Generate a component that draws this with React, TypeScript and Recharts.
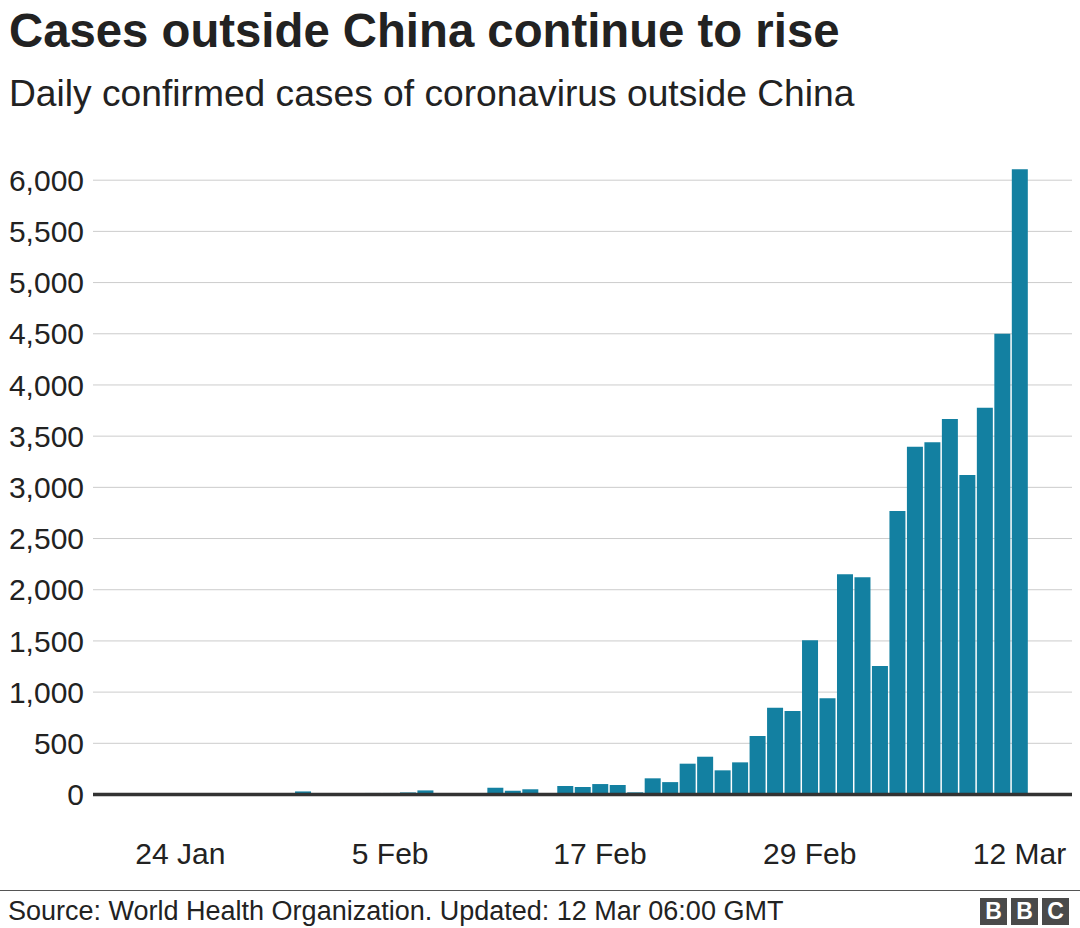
import {
  BarChart,
  Bar,
  XAxis,
  YAxis,
  CartesianGrid,
  ReferenceLine,
} from 'recharts'

// one entry per day, 20 Jan .. 12 Mar
const dates = [
  '20 Jan', '21 Jan', '22 Jan', '23 Jan', '24 Jan', '25 Jan', '26 Jan', '27 Jan',
  '28 Jan', '29 Jan', '30 Jan', '31 Jan', '1 Feb', '2 Feb', '3 Feb', '4 Feb',
  '5 Feb', '6 Feb', '7 Feb', '8 Feb', '9 Feb', '10 Feb', '11 Feb', '12 Feb',
  '13 Feb', '14 Feb', '15 Feb', '16 Feb', '17 Feb', '18 Feb', '19 Feb', '20 Feb',
  '21 Feb', '22 Feb', '23 Feb', '24 Feb', '25 Feb', '26 Feb', '27 Feb', '28 Feb',
  '29 Feb', '1 Mar', '2 Mar', '3 Mar', '4 Mar', '5 Mar', '6 Mar', '7 Mar',
  '8 Mar', '9 Mar', '10 Mar', '11 Mar', '12 Mar',
]

const cases = [
  0, 2, 1, 3, 4, 5, 6, 7,
  12, 6, 8, 30, 7, 6, 6, 15,
  15, 20, 40, 9, 9, 2, 66, 37,
  51, 3, 83, 73, 102, 93, 21, 158,
  121, 301, 369, 236, 314, 571, 848, 815,
  1506, 939, 2152, 2123, 1255, 2770, 3397, 3440,
  3667, 3120, 3777, 4500, 6108,
]

const xTicks = ['24 Jan', '5 Feb', '17 Feb', '29 Feb', '12 Mar']
const yTicks = [0, 500, 1000, 1500, 2000, 2500, 3000, 3500, 4000, 4500, 5000, 5500, 6000]

const FONT = 'Helvetica, Arial, "Liberation Sans", sans-serif'
const BAR_COLOR = '#1380a1'
const TEXT = '#222222'

const data = dates.map((d, i) => ({ x: i, label: d, value: cases[i] }))

function BbcLogo() {
  return (
    <div style={{ position: 'absolute', left: 980, top: 898, display: 'flex', gap: 4 }}>
      {['B', 'B', 'C'].map((ch, i) => (
        <div
          key={i}
          style={{
            width: 27,
            height: 27,
            background: '#4a4a4a',
            color: '#fff',
            fontFamily: FONT,
            fontWeight: 700,
            fontSize: 23,
            lineHeight: '27px',
            textAlign: 'center',
          }}
        >
          {ch}
        </div>
      ))}
    </div>
  )
}

export default function App() {
  return (
    <div
      style={{
        position: 'absolute',
        left: 0,
        top: 0,
        width: 1080,
        height: 928,
        background: '#fff',
        overflow: 'hidden',
        fontFamily: FONT,
        color: TEXT,
      }}
    >
      <div style={{ position: 'absolute', left: 9, top: 7, fontSize: 47.3, fontWeight: 700, lineHeight: 1, whiteSpace: 'nowrap' }}>
        Cases outside China continue to rise
      </div>
      <div style={{ position: 'absolute', left: 9, top: 75, fontSize: 37.2, lineHeight: 1, whiteSpace: 'nowrap' }}>
        Daily confirmed cases of coronavirus outside China
      </div>

      <div style={{ position: 'absolute', left: 0, top: 0 }}>
        <BarChart
          width={1080}
          height={880}
          data={data}
          margin={{ top: 129, right: 8, bottom: 25.5, left: 0 }}
        >
          <CartesianGrid vertical={false} stroke="#cccccc" strokeWidth={1} horizontalValues={yTicks} />
          <XAxis
            dataKey="x"
            type="number"
            domain={[-1, 55]}
            ticks={xTicks.map((t) => dates.indexOf(t))}
            tickFormatter={(v) => dates[v] ?? ''}
            axisLine={false}
            tickLine={false}
            tickSize={0}
            tickMargin={48}
            height={60}
            tick={{ fontSize: 30, fill: TEXT, fontFamily: FONT }}
            interval={0}
          />
          <YAxis
            domain={[0, 6500]}
            ticks={yTicks}
            tickFormatter={(v) => v.toLocaleString('en-GB')}
            axisLine={false}
            tickLine={false}
            tickSize={0}
            tickMargin={9}
            width={93}
            tick={{ fontSize: 30, fill: TEXT, fontFamily: FONT }}
            interval={0}
          />
          <Bar dataKey="value" fill={BAR_COLOR} barSize={16} isAnimationActive={false} />
          <ReferenceLine y={0} stroke="#333333" strokeWidth={3.5} />
        </BarChart>
      </div>

      <div style={{ position: 'absolute', left: 0, top: 890, width: 1080, height: 1, background: '#555' }} />
      <div style={{ position: 'absolute', left: 8, top: 898, fontSize: 27, lineHeight: 1, whiteSpace: 'nowrap' }}>
        Source: World Health Organization. Updated: 12 Mar 06:00 GMT
      </div>
      <BbcLogo />
    </div>
  )
}
